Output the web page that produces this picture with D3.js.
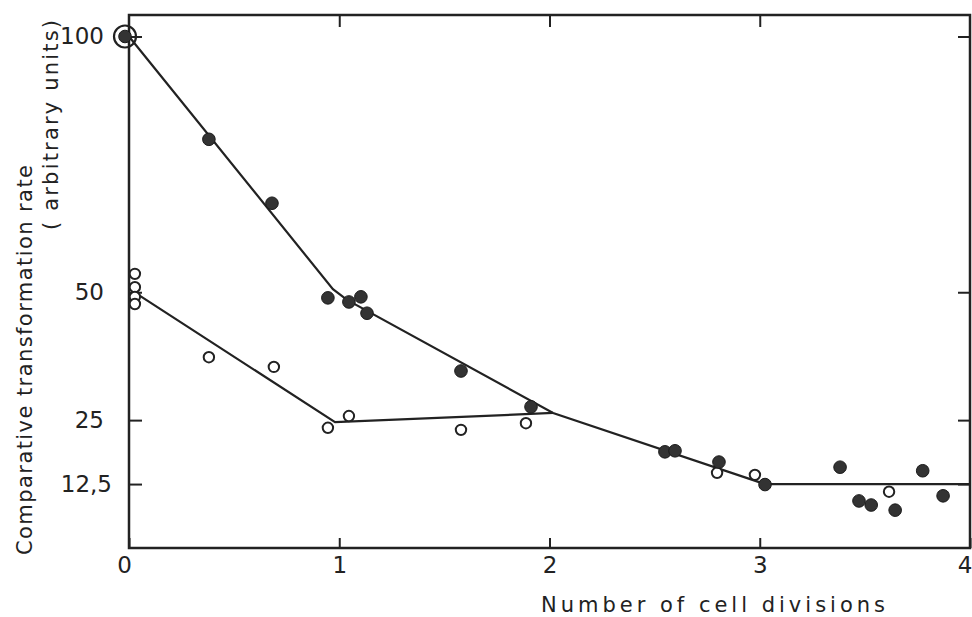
<!DOCTYPE html>
<html lang="en">
<head>
<meta charset="UTF-8">
<title>Comparative transformation rate</title>
<script src="https://d3js.org/d3.v7.min.js"></script>
<style>
    body { margin: 0; background: #fff; }
    svg { display: block; }
    text { font-family: "DejaVu Sans", sans-serif; fill: #222; }
</style>
</head>
<body>
<div id="chart"></div>
<script>
// filled circles
const filledX = [0, 0.38, 0.68, 0.946, 1.046, 1.103, 1.132, 1.579, 1.912, 2.549, 2.597, 2.806, 3.025, 3.382, 3.472, 3.53, 3.644, 3.775, 3.872];
const filledY = [100, 79.9, 67.4, 48.9, 48.1, 49.1, 45.9, 34.6, 27.6, 18.8, 19.0, 16.8, 12.4, 15.8, 9.2, 8.4, 7.4, 15.1, 10.2];

// open circles
const openX = [0.028, 0.028, 0.028, 0.028, 0.38, 0.689, 0.946, 1.046, 1.579, 1.888, 2.797, 2.977, 3.615];
const openY = [53.6, 51.0, 49.1, 47.7, 37.3, 35.4, 23.5, 25.8, 23.1, 24.4, 14.7, 14.3, 11.0];

// fitted lines
const upperX = [0, 0.97, 1.037, 2.017, 3.025, 4];
const upperY = [100, 50.6, 48.5, 26.4, 12.5, 12.5];
const lowerX = [0.045, 0.98, 2.017];
const lowerY = [49.5, 24.6, 26.4];

const yTicks = [12.5, 25, 50, 100];
const yTickLabels = ['12,5', '25', '50', '100'];
const xTicks = [0, 1, 2, 3, 4];

const width = 972, height = 617;
const margin = { top: 15, right: 2, bottom: 69, left: 129 };
const innerW = width - margin.left - margin.right;
const innerH = height - margin.top - margin.bottom;
const ink = '#222';

const svg = d3.select('#chart')
    .append('svg')
    .attr('width', width)
    .attr('height', height);

const g = svg.append('g')
    .attr('transform', `translate(${margin.left}, ${margin.top})`);

const x = d3.scaleLinear().domain([0, 4]).range([0, innerW]);
const y = d3.scaleLinear().domain([0, 104.2]).range([innerH, 0]);

// axes, ticks pointing inwards
const bottomAxis = g.append('g')
    .attr('transform', `translate(0, ${innerH})`)
    .call(d3.axisBottom(x).tickValues(xTicks).tickFormat(d3.format('d')).tickSizeInner(-10).tickSizeOuter(0).tickPadding(9));

const leftAxis = g.append('g')
    .call(d3.axisLeft(y).tickValues(yTicks).tickFormat((d, i) => yTickLabels[i]).tickSizeInner(-13).tickSizeOuter(0).tickPadding(25));

g.append('g')
    .call(d3.axisTop(x).tickValues([1, 2, 3]).tickFormat('').tickSizeInner(-12).tickSizeOuter(0));

g.append('g')
    .attr('transform', `translate(${innerW}, 0)`)
    .call(d3.axisRight(y).tickValues(yTicks).tickFormat('').tickSizeInner(-12).tickSizeOuter(0));

g.selectAll('.domain').remove();
g.selectAll('.tick line').attr('stroke', ink).attr('stroke-width', 2);
g.selectAll('.tick text')
    .attr('fill', ink)
    .style('font-size', '23px')
    .style('font-family', '"DejaVu Sans", sans-serif');

// "0" sits a little left of the axis, "4" is kept inside the page
bottomAxis.selectAll('.tick text')
    .attr('dx', d => d === 0 ? -5 : 0)
    .attr('text-anchor', d => d === 4 ? 'end' : 'middle')
    .attr('x', d => d === 4 ? 2 : 0);
leftAxis.selectAll('.tick text')
    .attr('dx', d => d === 12.5 ? 8 : 0);

// frame
g.append('rect')
    .attr('x', 0)
    .attr('y', 0)
    .attr('width', innerW)
    .attr('height', innerH)
    .attr('fill', 'none')
    .attr('stroke', ink)
    .attr('stroke-width', 2.5);

// fitted lines
const line = d3.line().x(d => x(d[0])).y(d => y(d[1]));

g.append('path')
    .datum(d3.zip(upperX, upperY))
    .attr('d', line)
    .attr('fill', 'none')
    .attr('stroke', ink)
    .attr('stroke-width', 2.2);

g.append('path')
    .datum(d3.zip(lowerX, lowerY))
    .attr('d', line)
    .attr('fill', 'none')
    .attr('stroke', ink)
    .attr('stroke-width', 2.2);

// big ring round the starting point (both series at 100)
g.append('circle')
    .attr('cx', x(filledX[0]) - 4)
    .attr('cy', y(filledY[0]))
    .attr('r', 11)
    .attr('fill', 'none')
    .attr('stroke', ink)
    .attr('stroke-width', 2.2);

// open circles
g.selectAll('.open')
    .data(d3.zip(openX, openY))
    .join('circle')
    .attr('class', 'open')
    .attr('cx', d => x(d[0]))
    .attr('cy', d => y(d[1]))
    .attr('r', 5.2)
    .attr('fill', '#fff')
    .attr('stroke', ink)
    .attr('stroke-width', 2);

// filled circles
g.selectAll('.filled')
    .data(d3.zip(filledX, filledY))
    .join('circle')
    .attr('class', 'filled')
    .attr('cx', (d, i) => x(d[0]) - (i === 0 ? 4 : 0))
    .attr('cy', d => y(d[1]))
    .attr('r', 6.3)
    .attr('fill', '#333')
    .attr('stroke', '#1a1a1a')
    .attr('stroke-width', 1);

// axis titles
svg.append('text')
    .attr('x', 713)
    .attr('y', 612)
    .attr('text-anchor', 'middle')
    .attr('textLength', 344)
    .attr('lengthAdjust', 'spacing')
    .style('font-size', '21px')
    .text('Number of cell divisions');

svg.append('text')
    .attr('transform', 'translate(32, 360) rotate(-90)')
    .attr('text-anchor', 'middle')
    .attr('textLength', 390)
    .attr('lengthAdjust', 'spacing')
    .style('font-size', '21px')
    .text('Comparative transformation rate');

svg.append('text')
    .attr('transform', 'translate(58, 125) rotate(-90)')
    .attr('text-anchor', 'middle')
    .attr('textLength', 210)
    .attr('lengthAdjust', 'spacing')
    .style('font-size', '21px')
    .text('( arbitrary units)');
</script>
</body>
</html>
